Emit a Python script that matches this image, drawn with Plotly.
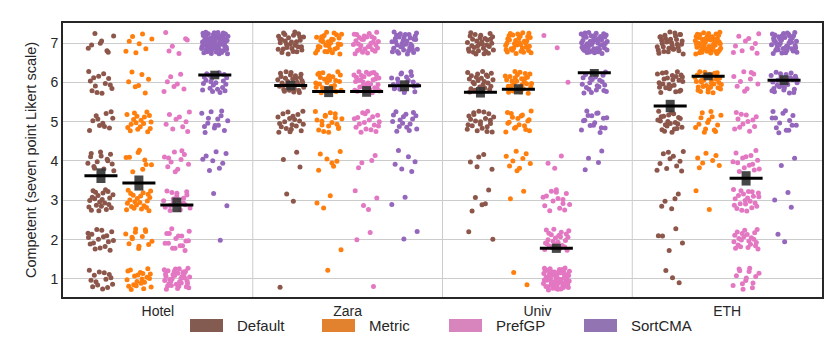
import plotly.graph_objects as go
import numpy as np

groups = ["Hotel", "Zara", "Univ", "ETH"]
methods = ["Default", "Metric", "PrefGP", "SortCMA"]
colors = ["#8c564b", "#ff7f0e", "#e377c2", "#9467bd"]
legend_colors = ["#845b50", "#e2822f", "#d885bd", "#9274b3"]
likert = [1, 2, 3, 4, 5, 6, 7]

# counts of responses for ratings 1..7
hotel_default = [14, 17, 22, 14, 11, 13, 8]
hotel_metric = [21, 13, 22, 9, 18, 7, 8]
hotel_prefgp = [35, 16, 18, 11, 9, 7, 6]
hotel_sortcma = [0, 1, 2, 8, 14, 22, 60]
zara_default = [1, 0, 2, 3, 20, 30, 30]
zara_metric = [1, 1, 3, 7, 18, 25, 30]
zara_prefgp = [1, 2, 4, 4, 18, 32, 30]
zara_sortcma = [0, 2, 2, 6, 16, 20, 35]
univ_default = [0, 2, 5, 5, 22, 25, 32]
univ_metric = [2, 0, 2, 9, 18, 30, 35]
univ_prefgp = [58, 25, 15, 3, 0, 1, 2]
univ_sortcma = [0, 0, 0, 4, 16, 22, 45]
eth_default = [3, 5, 5, 11, 22, 25, 32]
eth_metric = [0, 0, 2, 7, 14, 32, 50]
eth_prefgp = [14, 22, 22, 14, 12, 10, 10]
eth_sortcma = [0, 2, 3, 2, 14, 28, 40]

counts = {
    "Hotel": [hotel_default, hotel_metric, hotel_prefgp, hotel_sortcma],
    "Zara": [zara_default, zara_metric, zara_prefgp, zara_sortcma],
    "Univ": [univ_default, univ_metric, univ_prefgp, univ_sortcma],
    "ETH": [eth_default, eth_metric, eth_prefgp, eth_sortcma],
}


def vdc(n, base):
    v, denom = 0.0, 1.0
    while n:
        n, r = divmod(n, base)
        denom *= base
        v += r / denom
    return v


offsets = [-0.3, -0.1, 0.1, 0.3]
fig = go.Figure()
seed = 1
summary = []
for gi, g in enumerate(groups):
    for mi, m in enumerate(methods):
        xs, ys, vals = [], [], []
        for lv, c in zip(likert, counts[g][mi]):
            for k in range(c):
                seed += 1
                xs.append(gi + offsets[mi] + (vdc(seed, 2) - 0.5) * 0.14)
                ys.append(lv + (vdc(seed, 3) - 0.5) * 0.56)
                vals.append(lv)
        fig.add_trace(go.Scatter(x=xs, y=ys, mode="markers",
                                 marker=dict(color=colors[mi], size=5, line=dict(width=0)),
                                 showlegend=False, hoverinfo="skip"))
        v = np.array(vals, dtype=float)
        mean = float(v.mean())
        se = float(v.std(ddof=1) / np.sqrt(len(v)))
        summary.append((gi + offsets[mi], mean, se))

for xc, mean, se in summary:
    fig.add_trace(go.Scatter(x=[xc, xc], y=[mean - se, mean + se], mode="lines",
                             line=dict(color="rgba(55,55,55,0.92)", width=9),
                             showlegend=False, hoverinfo="skip"))
    fig.add_trace(go.Scatter(x=[xc - 0.087, xc + 0.087], y=[mean, mean], mode="lines",
                             line=dict(color="black", width=3), showlegend=False))

for xb in [0.5, 1.5, 2.5]:
    fig.add_shape(type="line", xref="x", yref="paper", x0=xb, x1=xb, y0=0, y1=1,
                  line=dict(color="#cccccc", width=1), layer="below")

# manual legend (screen px -> paper coords; plot area is 63..822 x 23..297)
leg_x = [190, 322, 449, 584]
for i, m in enumerate(methods):
    fig.add_shape(type="rect", xref="paper", yref="paper",
                  x0=(leg_x[i] - 63) / 759, x1=(leg_x[i] + 33 - 63) / 759,
                  y0=(297 - 332) / 274, y1=(297 - 319) / 274,
                  fillcolor=legend_colors[i], line=dict(width=0))
    fig.add_annotation(xref="paper", yref="paper", x=(leg_x[i] + 45 - 63) / 759,
                       y=(297 - 325.5) / 274, text=m, showarrow=False,
                       xanchor="left", yanchor="middle",
                       font=dict(size=15, color="#262626"))

# page body has 8px margin: plot area on screen 63..822 x 23..297
fig.update_layout(
    width=840, height=360,
    margin=dict(l=55, r=26, t=15, b=71),
    plot_bgcolor="white", paper_bgcolor="white",
    font=dict(family="Liberation Sans, Arial, sans-serif", size=14, color="#262626"),
    xaxis=dict(range=[-0.5, 3.5], tickvals=[0, 1, 2, 3], ticktext=groups,
               showgrid=False, zeroline=False, showline=True, mirror=True,
               linecolor="#262626", linewidth=2, ticks="", tickfont=dict(size=14)),
    yaxis=dict(range=[0.54, 7.51], tickvals=likert, showgrid=True, gridcolor="#cccccc",
               gridwidth=1, zeroline=False, showline=True, mirror=True,
               linecolor="#262626", linewidth=2, ticks="", tickfont=dict(size=14),
               title=dict(text="Competent (seven point Likert scale)", font=dict(size=14.5),
                          standoff=10)),
)

fig.write_html("out.html")
